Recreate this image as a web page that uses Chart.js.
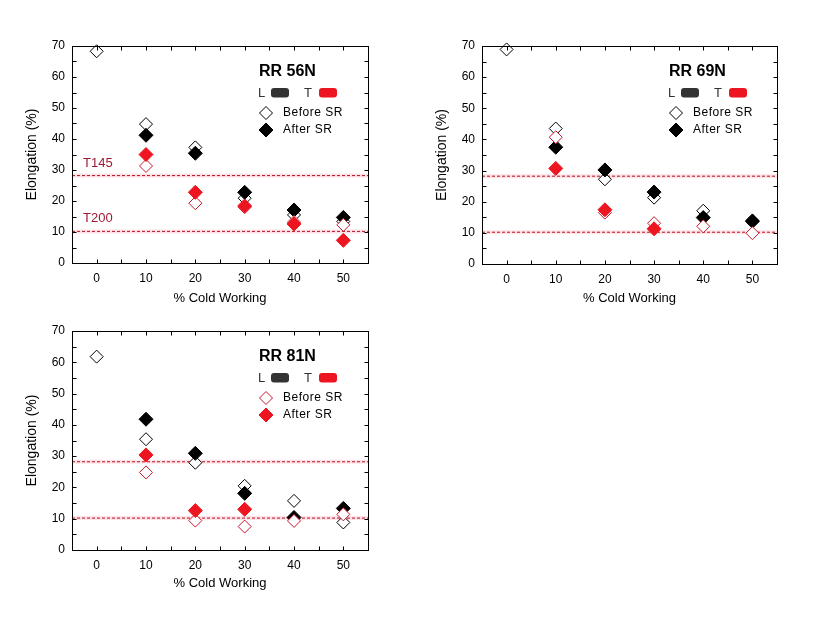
<!DOCTYPE html>
<html>
<head>
<meta charset="utf-8">
<script src="https://cdn.jsdelivr.net/npm/chart.js@4.4.1/dist/chart.umd.min.js"></script>
<style>
  body { margin: 0; background: #fff; }
  #wrap { position: relative; width: 820px; height: 617px; }
  canvas { position: absolute; }
</style>
</head>
<body>
<div id="wrap">
  <canvas id="rr56" width="410" height="308" style="left:0;top:0"></canvas>
  <canvas id="rr69" width="410" height="308" style="left:410px;top:0"></canvas>
  <canvas id="rr81" width="410" height="308" style="left:0;top:285px"></canvas>
</div>
<script>
const coldWorking = [0, 10, 20, 30, 40, 50];
const elongTicks = [0, 10, 20, 30, 40, 50, 60, 70];
const limits = [28.2, 10.2];
const limitNames = ['T145', 'T200'];

// RR 56N
const rr56LBefore = [68.3, 44.8, 37.3, 20.9, 15.5, 13.4];
const rr56LAfter = [null, 41.2, 35.4, 22.8, 17.1, 14.7];
const rr56TBefore = [null, 31.3, 19.3, 18.0, 13.2, 12.3];
const rr56TAfter = [null, 35.0, 22.8, 18.4, 12.6, 7.3];

// RR 69N
const rr69LBefore = [68.9, 43.5, 27.2, 21.3, 17.1, 14.0];
const rr69LAfter = [null, 37.5, 30.2, 23.1, 14.9, 13.7];
const rr69TBefore = [null, 40.7, 16.5, 13.1, 12.1, 9.9];
const rr69TAfter = [null, 30.7, 17.4, 11.3, null, null];

// RR 81N
const rr81LBefore = [61.8, 35.4, 27.9, 20.5, 15.7, 8.8];
const rr81LAfter = [null, 41.8, 30.9, 18.1, 10.4, 13.3];
const rr81TBefore = [null, 24.8, 9.4, 7.5, 9.3, 11.4];
const rr81TAfter = [null, 30.4, 12.6, 13.0, null, null];

const FONT = '"Liberation Sans", Arial, sans-serif';
const RED = '#ec1520';
const OPEN_RED = '#c8182c';
const LIMIT_RED = '#9e1a33';

Chart.defaults.font.family = FONT;
Chart.defaults.color = '#000';

function toPoints(vals) {
    return coldWorking.map((x, i) => ({ x: x, y: vals[i] })).filter(p => p.y !== null);
}

function diamond(ctx, x, y, r, fill, stroke) {
    ctx.beginPath();
    ctx.moveTo(x - r, y);
    ctx.lineTo(x, y - r);
    ctx.lineTo(x + r, y);
    ctx.lineTo(x, y + r);
    ctx.closePath();
    ctx.fillStyle = fill;
    ctx.fill();
    ctx.strokeStyle = stroke;
    ctx.lineWidth = 1;
    ctx.stroke();
}

// frame, inward ticks, legend box and limit labels
const panelDecor = {
    id: 'panelDecor',
    afterDatasetsDraw(chart, args, o) {
        const ctx = chart.ctx;
        const a = chart.chartArea;
        const xs = chart.scales.x, ys = chart.scales.y;
        const l = Math.round(a.left) + 0.5, r = Math.round(a.right) + 0.5;
        const t = Math.round(a.top) + 0.5, b = Math.round(a.bottom) + 0.5;
        ctx.save();
        ctx.strokeStyle = '#000';
        ctx.lineWidth = 1;
        ctx.strokeRect(l, t, r - l, b - t);
        ctx.beginPath();
        for (let v = 0; v <= 50; v += 5) {
            const px = Math.round(xs.getPixelForValue(v)) + 0.5;
            ctx.moveTo(px, b); ctx.lineTo(px, b - 4);
            ctx.moveTo(px, t); ctx.lineTo(px, t + 4);
        }
        for (let v = 5; v <= 65; v += 5) {
            const py = Math.round(ys.getPixelForValue(v)) + 0.5;
            ctx.moveTo(l, py); ctx.lineTo(l + 4, py);
            ctx.moveTo(r, py); ctx.lineTo(r - 4, py);
        }
        ctx.stroke();

        const L = a.left, T = a.top;
        ctx.textBaseline = 'middle';
        ctx.textAlign = 'left';
        ctx.fillStyle = '#000';
        ctx.font = 'bold 16px ' + FONT;
        ctx.fillText(o.title, L + 187, T + 26);

        ctx.font = '13px ' + FONT;
        ctx.fillStyle = '#333';
        ctx.fillText('L', L + 186, T + 47);
        ctx.fillText('T', L + 232, T + 47);
        ctx.beginPath();
        ctx.roundRect(L + 199, T + 42, 18, 9.5, 3);
        ctx.fill();
        ctx.fillStyle = RED;
        ctx.beginPath();
        ctx.roundRect(L + 247, T + 42, 18, 9.5, 3);
        ctx.fill();

        diamond(ctx, L + 194, T + 67, 6.5, '#fff', o.red ? OPEN_RED : '#000');
        diamond(ctx, L + 194, T + 84, 7, o.red ? RED : '#000', o.red ? RED : '#000');
        ctx.font = '12px ' + FONT;
        ctx.letterSpacing = '0.5px';
        ctx.fillStyle = '#000';
        ctx.fillText('Before SR', L + 211, T + 67);
        ctx.fillText('After SR', L + 211, T + 84);
        ctx.letterSpacing = '0px';

        if (o.limitLabels) {
            ctx.font = '13px ' + FONT;
            ctx.fillStyle = LIMIT_RED;
            limits.forEach((v, i) => {
                ctx.fillText(limitNames[i], L + 11, ys.getPixelForValue(v) - 12.5);
            });
        }
        ctx.restore();
    }
};

function makePanel(id, title, lBefore, lAfter, tBefore, tAfter, p) {
    const datasets = [];
    limits.forEach(v => {
        const pts = [{ x: -5, y: v }, { x: 55, y: v }];
        datasets.push({ type: 'line', data: pts, borderColor: 'rgba(255,160,175,0.3)', borderWidth: 4,
            pointRadius: 0, order: 21 });
        datasets.push({ type: 'line', data: pts, borderColor: '#b3121f', borderWidth: 1, borderDash: [3, 2],
            pointRadius: 0, order: 20 });
    });
    datasets.push({ data: toPoints(lBefore), pointStyle: 'rectRot', pointRadius: 6.5, clip: false,
        backgroundColor: '#fff', borderColor: '#000', borderWidth: 1, order: 4 });
    datasets.push({ data: toPoints(lAfter), pointStyle: 'rectRot', pointRadius: 7, clip: false,
        backgroundColor: '#000', borderColor: '#000', borderWidth: 1, order: 3 });
    datasets.push({ data: toPoints(tBefore), pointStyle: 'rectRot', pointRadius: 6.5, clip: false,
        backgroundColor: '#fff', borderColor: OPEN_RED, borderWidth: 1, order: 2 });
    datasets.push({ data: toPoints(tAfter), pointStyle: 'rectRot', pointRadius: 7, clip: false,
        backgroundColor: RED, borderColor: RED, borderWidth: 1, order: 1 });

    new Chart(document.getElementById(id), {
        type: 'scatter',
        data: { datasets: datasets },
        plugins: [panelDecor],
        options: {
            responsive: false,
            animation: false,
            events: [],
            layout: { padding: { left: 24, top: 46, right: p.padRight, bottom: 0 } },
            scales: {
                x: {
                    type: 'linear',
                    min: -5,
                    max: 55,
                    grid: { display: false, drawTicks: false },
                    border: { display: false },
                    afterBuildTicks: s => { s.ticks = coldWorking.map(v => ({ value: v })); },
                    afterFit: s => { s.height = p.xHeight; },
                    ticks: { padding: 8, font: { size: 12 }, maxRotation: 0, autoSkip: false },
                    title: { display: true, text: '% Cold Working', font: { size: 13 }, padding: { top: 0, bottom: 2 } }
                },
                y: {
                    type: 'linear',
                    min: 0,
                    max: 70,
                    grid: { display: false, drawTicks: false },
                    border: { display: false },
                    afterBuildTicks: s => { s.ticks = elongTicks.map(v => ({ value: v })); },
                    afterFit: s => { s.width = 48; },
                    ticks: { padding: 7, font: { size: 12 } },
                    title: { display: true, text: 'Elongation (%)', font: { size: 14 }, padding: 0 }
                }
            },
            plugins: {
                legend: { display: false },
                tooltip: { enabled: false },
                panelDecor: { title: title, red: p.red, limitLabels: p.limitLabels }
            }
        }
    });
}

makePanel('rr56', 'RR 56N', rr56LBefore, rr56LAfter, rr56TBefore, rr56TAfter,
    { padRight: 42, xHeight: 45, red: false, limitLabels: true });
makePanel('rr69', 'RR 69N', rr69LBefore, rr69LAfter, rr69TBefore, rr69TAfter,
    { padRight: 43, xHeight: 44, red: false, limitLabels: false });
makePanel('rr81', 'RR 81N', rr81LBefore, rr81LAfter, rr81TBefore, rr81TAfter,
    { padRight: 42, xHeight: 43, red: true, limitLabels: false });
</script>
</body>
</html>
